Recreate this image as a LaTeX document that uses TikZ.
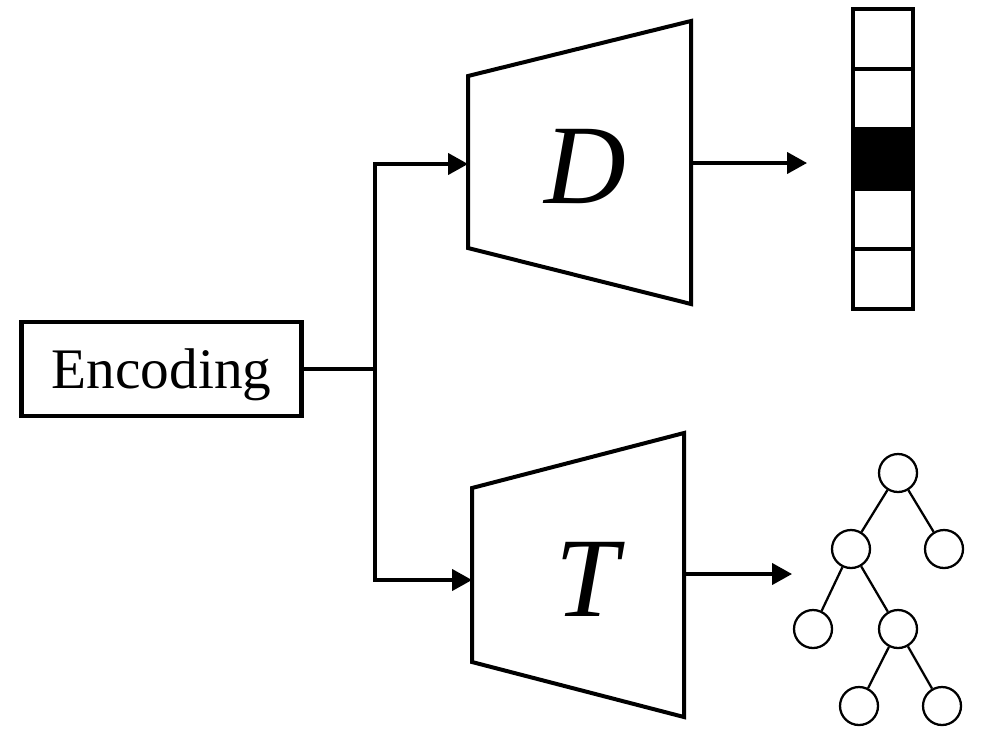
\documentclass[tikz,border=0pt]{standalone}
\usepackage{fontspec}
\setmainfont{Liberation Serif}
\usetikzlibrary{arrows.meta}
\begin{document}
\begin{tikzpicture}[x=0.75pt,y=-0.75pt,line width=2.4pt,line join=miter,
  arr/.style={-{Triangle[length=15pt,width=16pt]}},
  big/.style={font=\fontsize{85}{90}\selectfont\itshape,text depth=0pt,inner sep=0pt},
  cell/.style={draw,line width=3.2pt,minimum width=45pt,minimum height=45pt,inner sep=0pt},
  knot/.style={circle,draw,line width=1.7pt,minimum size=28.5pt,inner sep=0pt}]
\useasboundingbox (0,0) rectangle (991,729);
% encoding box and the split
\node[draw,line width=3.2pt,minimum width=210pt,minimum height=70pt,inner sep=0pt,
  text depth=0pt,font=\fontsize{43}{50}\selectfont] (enc) at (161.5,369) {Encoding};
\coordinate (split) at (375,369);
\coordinate (din) at (468,164);
\coordinate (tin) at (472,580);
\draw (enc.east) -- (split);
\draw[arr] (split) |- (din);
\draw[arr] (split) |- (tin);
% D net
\coordinate (D1) at (468,76);
\coordinate (D2) at (691,21);
\coordinate (D3) at (691,304);
\coordinate (D4) at (468,248);
\draw[line width=3pt] (D1) -- (D2) -- (D3) -- (D4) -- cycle;
\node[big] (dlab) at (585,166) {D};
% T net
\coordinate (T1) at (472,488);
\coordinate (T2) at (684,433);
\coordinate (T3) at (684,717);
\coordinate (T4) at (472,662);
\draw[line width=3pt] (T1) -- (T2) -- (T3) -- (T4) -- cycle;
\node[big] (tlab) at (587,579) {T};
% outputs
\coordinate (dout) at (691,163);
\coordinate (dend) at (807,163);
\coordinate (tout) at (684,574);
\coordinate (tend) at (792,574);
\draw[arr] (dout) -- (dend);
\draw[arr] (tout) -- (tend);
% vector
\foreach \i in {0,...,4}
  \node[cell] (c\i) at (883,39+60*\i) {};
\fill (c2.north west) rectangle (c2.south east);
% tree
\node[knot] (r) at (898,473) {};
\node[knot] (a) at (851,549) {};
\node[knot] (b) at (944,549) {};
\node[knot] (aa) at (813,629) {};
\node[knot] (ab) at (898,629) {};
\node[knot] (aba) at (859,706) {};
\node[knot] (abb) at (942,706) {};
\draw[line width=1.7pt] (r) -- (a) (r) -- (b) (a) -- (aa) (a) -- (ab)
  (ab) -- (aba) (ab) -- (abb);
\end{tikzpicture}
\end{document}
